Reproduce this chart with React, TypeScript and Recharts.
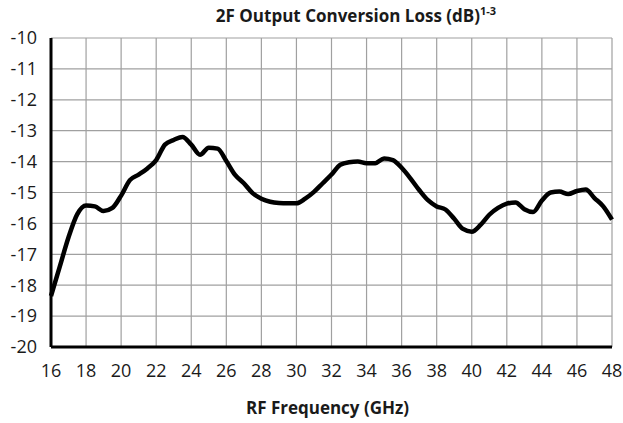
import React from "react";
import { LineChart, Line, XAxis, YAxis, CartesianGrid } from "recharts";

const freqGHz = [
  16, 16.5, 17, 17.5, 18, 18.5, 19, 19.5, 20, 20.5, 21, 21.5, 22, 22.5, 23, 23.5,
  24, 24.5, 25, 25.5, 26, 26.5, 27, 27.5, 28, 28.5, 29, 29.5, 30, 30.5, 31, 31.5,
  32, 32.5, 33, 33.5, 34, 34.5, 35, 35.5, 36, 36.5, 37, 37.5, 38, 38.5, 39, 39.5,
  40, 40.5, 41, 41.5, 42, 42.5, 43, 43.5, 44, 44.5, 45, 45.5, 46, 46.5, 47, 47.5, 48,
];

const lossDb = [
  -18.35, -17.4, -16.45, -15.7, -15.42, -15.45, -15.6, -15.5, -15.1, -14.6, -14.42, -14.22,
  -13.95, -13.45, -13.3, -13.2, -13.45, -13.78, -13.55, -13.58, -13.98, -14.43, -14.7, -15.02,
  -15.2, -15.3, -15.34, -15.35, -15.35, -15.2, -14.98, -14.7, -14.42, -14.1, -14.02, -14.0,
  -14.05, -14.05, -13.9, -13.95, -14.2, -14.54, -14.92, -15.25, -15.45, -15.55, -15.85, -16.18,
  -16.27, -16.05, -15.72, -15.5, -15.36, -15.32, -15.54, -15.63, -15.26, -15.0, -14.97, -15.05,
  -14.95, -14.9, -15.18, -15.45, -15.88,
];

const xTicks = [16, 18, 20, 22, 24, 26, 28, 30, 32, 34, 36, 38, 40, 42, 44, 46, 48];
const yTicks = [-20, -19, -18, -17, -16, -15, -14, -13, -12, -11, -10];

const data = freqGHz.map((f, i) => ({ f, loss: lossDb[i] }));

const FONT = "'Open Sans', 'Noto Sans', sans-serif";

export default function App() {
  return (
    <div style={{ position: "relative", width: 623, height: 423, fontFamily: FONT, background: "#fff" }}>
      <style>{"body{margin:0}"}</style>
      <LineChart
        width={623}
        height={423}
        data={data}
        margin={{ top: 38, right: 11, left: 0, bottom: 16 }}
      >
        <CartesianGrid stroke="#a0a0a0" strokeWidth={1.2} verticalValues={xTicks} horizontalValues={yTicks} />
        <XAxis
          dataKey="f"
          type="number"
          domain={[16, 48]}
          ticks={xTicks}
          interval={0}
          height={60}
          tickLine={false}
          tickSize={0}
          tickMargin={17}
          axisLine={{ stroke: "#000", strokeWidth: 3 }}
          tick={{ fill: "#1a1a1a", fontSize: 18, fontFamily: FONT }}
        />
        <XAxis
          xAxisId="top"
          orientation="top"
          dataKey="f"
          type="number"
          domain={[16, 48]}
          height={0}
          tick={false}
          tickLine={false}
          axisLine={{ stroke: "#000", strokeWidth: 3 }}
        />
        <YAxis
          type="number"
          domain={[-20, -10]}
          ticks={yTicks}
          interval={0}
          width={51}
          tickLine={false}
          tickSize={0}
          tickMargin={14}
          axisLine={{ stroke: "#000", strokeWidth: 3 }}
          tick={{ fill: "#1a1a1a", fontSize: 18, fontFamily: FONT }}
        />
        <YAxis
          yAxisId="right"
          orientation="right"
          type="number"
          domain={[-20, -10]}
          width={0}
          tick={false}
          tickLine={false}
          axisLine={{ stroke: "#000", strokeWidth: 3 }}
        />
        <Line
          dataKey="loss"
          type="monotone"
          stroke="#000"
          strokeWidth={4.5}
          dot={false}
          isAnimationActive={false}
        />
      </LineChart>
      <div
        style={{
          position: "absolute",
          top: 3,
          left: 0,
          width: 712,
          textAlign: "center",
          fontWeight: 700,
          fontSize: 17,
          color: "#1a1a1a",
          whiteSpace: "nowrap",
        }}
      >
        2F Output Conversion Loss (dB)<sup style={{ fontSize: 11 }}>1-3</sup>
      </div>
      <div
        style={{
          position: "absolute",
          top: 396,
          left: 0,
          width: 655,
          textAlign: "center",
          fontWeight: 700,
          fontSize: 17,
          color: "#1a1a1a",
          whiteSpace: "nowrap",
        }}
      >
        RF Frequency (GHz)
      </div>
    </div>
  );
}
